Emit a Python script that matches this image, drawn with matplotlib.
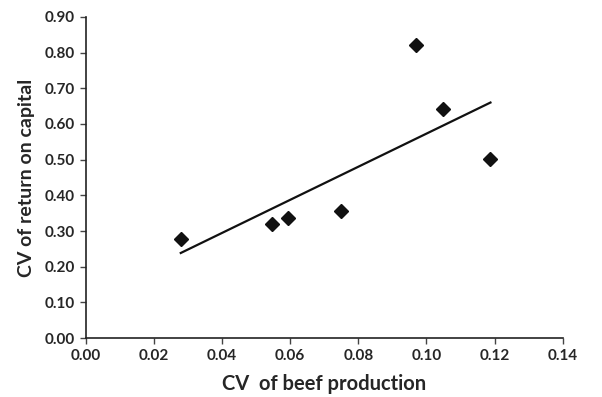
import numpy as np
import matplotlib
matplotlib.use("Agg")
import matplotlib.pyplot as plt

cv_beef = [0.0279, 0.0547, 0.0595, 0.0749, 0.0969, 0.1049, 0.1188]
cv_return = [0.278, 0.321, 0.336, 0.356, 0.821, 0.642, 0.503]
x_ticks = [0.00, 0.02, 0.04, 0.06, 0.08, 0.10, 0.12, 0.14]
y_ticks = [0.0, 0.1, 0.2, 0.3, 0.4, 0.5, 0.6, 0.7, 0.8, 0.9]

plt.rcParams['font.family'] = ['Lato', 'DejaVu Sans']
txt = '#262626'

fig = plt.figure(figsize=(6.02, 3.97), dpi=100)
ax = fig.add_axes([0.1424, 0.1486, 0.7923, 0.8086])

x = np.array(cv_beef)
y = np.array(cv_return)
slope, intercept = np.polyfit(x, y, 1)
xl = np.array([x.min(), x.max()])
ax.plot(xl, slope * xl + intercept, color='#111111', lw=1.6, zorder=2)
ax.plot(x, y, linestyle='none', marker='D', markersize=7, color='#111111', zorder=3)

ax.set_xlim(0, 0.14)
ax.set_ylim(0, 0.9)
ax.set_xticks(x_ticks)
ax.set_yticks(y_ticks)
ax.set_xticklabels([f"{v:.2f}" for v in x_ticks])
ax.set_yticklabels([f"{v:.2f}" for v in y_ticks])
for s in ['top', 'right']:
    ax.spines[s].set_visible(False)
for s in ['left', 'bottom']:
    ax.spines[s].set_color('#222222')
    ax.spines[s].set_linewidth(1.2)
ax.tick_params(axis='both', direction='out', length=4, width=1, color='#444444',
               labelsize=11, labelcolor=txt, pad=4)
for lab in ax.get_xticklabels() + ax.get_yticklabels():
    lab.set_fontweight('bold')

ax.set_xlabel('CV  of beef production', fontsize=14.5, fontweight='bold', color=txt, labelpad=8)
ax.set_ylabel('CV of return on capital', fontsize=14, fontweight='bold', color=txt, labelpad=7)

fig.savefig('out.png', dpi=100)
